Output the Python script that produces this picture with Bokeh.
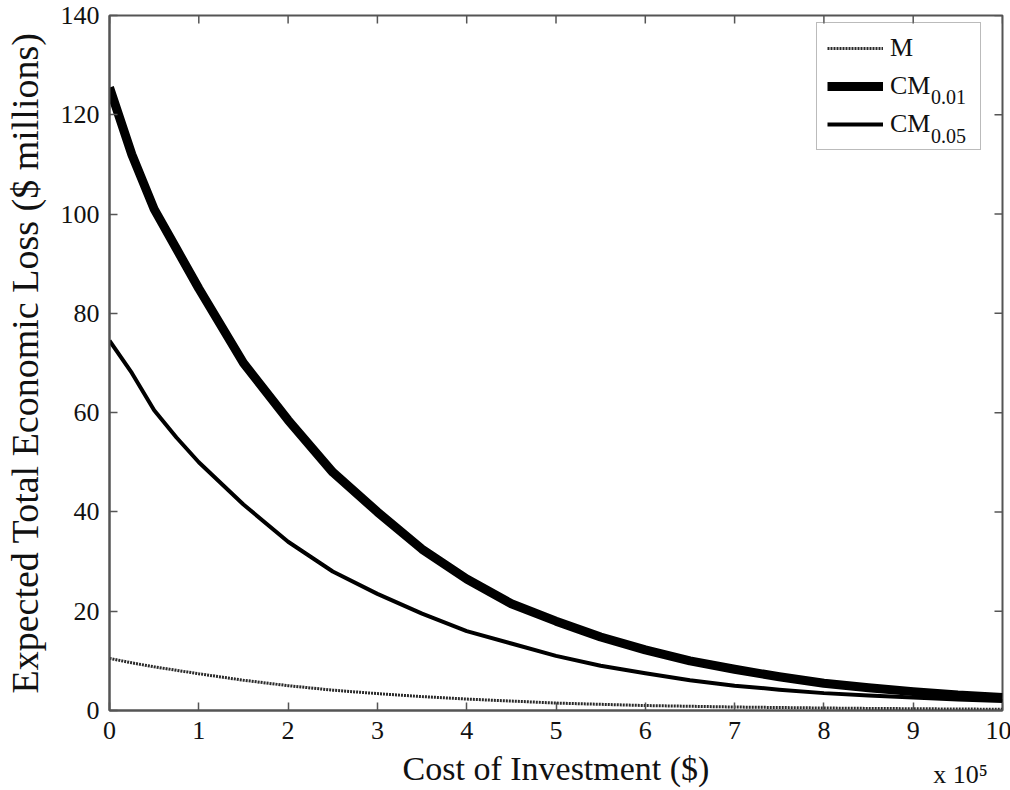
from bokeh.plotting import figure
from bokeh.models import (Range1d, FixedTicker, Legend, LegendItem, LinearAxis,
                          Label, ColumnDataSource)
from bokeh.embed import file_html
from bokeh.resources import INLINE

# ---- data (x in units of 1e5 $, y in $ millions) ----
cost = [0, 0.25, 0.5, 0.75, 1, 1.5, 2, 2.5, 3, 3.5, 4, 4.5, 5, 5.5, 6, 6.5, 7,
        7.5, 8, 8.5, 9, 9.5, 10]
loss_M = [10.5, 9.6, 8.8, 8.1, 7.4, 6.1, 5.0, 4.1, 3.4, 2.8, 2.3, 1.9, 1.5,
          1.25, 1.0, 0.85, 0.7, 0.6, 0.5, 0.42, 0.36, 0.3, 0.25]
loss_CM001 = [125.5, 112, 101, 93, 85, 70, 58.5, 48, 40, 32.5, 26.5, 21.5, 18,
              14.8, 12.2, 10, 8.3, 6.8, 5.5, 4.6, 3.8, 3.1, 2.6]
loss_CM005 = [74.5, 68, 60.5, 55, 50, 41.5, 34, 28, 23.5, 19.5, 16, 13.5, 11,
              9, 7.5, 6.1, 5, 4.2, 3.5, 3.0, 2.6, 2.2, 1.9]
x_ticks = [0, 1, 2, 3, 4, 5, 6, 7, 8, 9, 10]
y_ticks = [0, 20, 40, 60, 80, 100, 120, 140]
legend_labels = ["M", "CM", "CM"]
legend_subs = ["0.01", "0.05"]
x_multiplier = "x 10\u2075"
x_multiplier_pos = 9.53

SERIF = "Liberation Serif"
X_MAX, Y_MAX = 10, 140

src = ColumnDataSource(dict(x=cost, m=loss_M, c1=loss_CM001, c5=loss_CM005))

p = figure(width=1010, height=790, output_backend="svg", toolbar_location=None,
           x_range=Range1d(0, X_MAX), y_range=Range1d(0, Y_MAX),
           min_border_left=108, min_border_right=9, min_border_top=15,
           min_border_bottom=80, frame_width=893, frame_height=695)
p.xgrid.visible = False
p.ygrid.visible = False
p.outline_line_color = "#555555"
p.outline_line_width = 2
p.background_fill_color = "white"
p.border_fill_color = "white"

rM = p.line("x", "m", source=src, line_color="#2a2a2a", line_width=3,
            line_dash="2 1")
r1 = p.line("x", "c1", source=src, line_color="black", line_width=9,
            line_join="round")
r5 = p.line("x", "c5", source=src, line_color="black", line_width=4,
            line_join="round")

# inward ticks on the top and right edges (box style)
tick_x_len = 8 / 89.3
tick_y_len = 8 / 4.964
p.segment(x0=x_ticks, y0=[Y_MAX] * len(x_ticks), x1=x_ticks,
          y1=[Y_MAX - tick_y_len] * len(x_ticks), line_color="#555555",
          line_width=1.5)
p.segment(x0=[X_MAX] * len(y_ticks), y0=y_ticks,
          x1=[X_MAX - tick_x_len] * len(y_ticks), y1=y_ticks,
          line_color="#555555", line_width=1.5)

# bottom / left axes
xa = p.xaxis[0]
xa.ticker = FixedTicker(ticks=x_ticks)
ya = p.yaxis[0]
ya.ticker = FixedTicker(ticks=y_ticks)
for ax in (xa, ya):
    ax.major_tick_in = 8
    ax.major_tick_out = 0
    ax.minor_tick_line_color = None
    ax.axis_line_color = "#555555"
    ax.axis_line_width = 2
    ax.major_tick_line_color = "#555555"
    ax.major_tick_line_width = 1.5
    ax.major_label_text_font = SERIF
    ax.major_label_text_font_size = "26px"
    ax.major_label_text_color = "#111111"
    ax.axis_label_text_font = SERIF
    ax.axis_label_text_font_style = "normal"
    ax.axis_label_text_color = "#111111"
ya.axis_label = "Expected Total Economic Loss ($ millions)"
ya.axis_label_text_font_size = "38px"
xa.major_label_standoff = 11
ya.major_label_standoff = 10
ya.axis_label_standoff = 12

# second bottom row: axis title plus the "x 10^5" multiplier on one line
xb = LinearAxis(ticker=FixedTicker(ticks=[x_multiplier_pos]),
                major_label_overrides={x_multiplier_pos: x_multiplier},
                axis_label="Cost of Investment ($)")
xb.axis_line_color = None
xb.major_tick_line_color = None
xb.minor_tick_line_color = None
xb.major_tick_in = 0
xb.major_tick_out = 0
xb.major_label_standoff = 18
xb.major_label_text_font = SERIF
xb.major_label_text_font_size = "26px"
xb.major_label_text_color = "#111111"
xb.axis_label_text_font = SERIF
xb.axis_label_text_font_style = "normal"
xb.axis_label_text_font_size = "34px"
xb.axis_label_text_color = "#111111"
xb.axis_label_standoff = -42
p.add_layout(xb, "below")

# legend
legend = Legend(items=[LegendItem(label=legend_labels[0], renderers=[rM]),
                       LegendItem(label=legend_labels[1], renderers=[r1]),
                       LegendItem(label=legend_labels[2], renderers=[r5])],
                location=(707, 560))
legend.label_text_font = SERIF
legend.label_text_font_size = "26px"
legend.label_text_color = "#111111"
legend.glyph_width = 56
legend.glyph_height = 30
legend.label_height = 30
legend.label_width = 80
legend.label_standoff = 7
legend.spacing = 8
legend.padding = 10
legend.border_line_color = "#777777"
legend.border_line_width = 1.5
legend.background_fill_alpha = 0
p.add_layout(legend)

# subscripts for legend labels
p.add_layout(Label(x=9.2, y=123.6, text=legend_subs[0], text_font=SERIF,
                   text_font_size="20px", text_baseline="middle",
                   text_color="#111111", level="overlay"))
p.add_layout(Label(x=9.2, y=115.8, text=legend_subs[1], text_font=SERIF,
                   text_font_size="20px", text_baseline="middle",
                   text_color="#111111", level="overlay"))

open("out.html", "w").write(file_html(p, INLINE))
